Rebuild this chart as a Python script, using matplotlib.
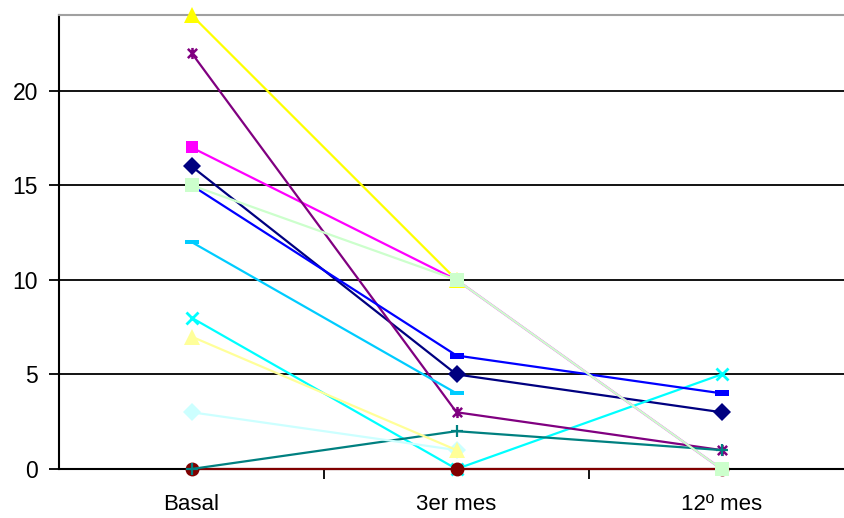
import numpy as np
import matplotlib
matplotlib.use("Agg")
import matplotlib.pyplot as plt
from matplotlib.path import Path

plt.rcParams['font.family'] = ['Liberation Sans', 'DejaVu Sans']

categories = ["Basal", "3er mes", "12º mes"]
nan = np.nan

# one row per patient: Basal, 3er mes, 12º mes
s01 = [16, 5, 3]
s02 = [17, 10, 0]
s03 = [24, 10, nan]
s04 = [8, 0, 5]
s05 = [22, 3, 1]
s06 = [0, 0, 0]
s07 = [0, 2, 1]
s08 = [15, 6, 4]
s09 = [12, 4, nan]
s10 = [3, 1, nan]
s11 = [15, 10, 0]
s12 = [7, 1, nan]

series = [s01, s02, s03, s04, s05, s06, s07, s08, s09, s10, s11, s12]

star = Path([(-1, -1), (1, 1), (-1, 1), (1, -1), (0, -1.2), (0, 1.2)],
            [Path.MOVETO, Path.LINETO, Path.MOVETO, Path.LINETO, Path.MOVETO, Path.LINETO])
short_dash = Path([(-0.6, -0.22), (0.6, -0.22), (0.6, 0.22), (-0.6, 0.22), (-0.6, -0.22)],
                  [Path.MOVETO, Path.LINETO, Path.LINETO, Path.LINETO, Path.CLOSEPOLY])
long_dash = Path([(-1, -0.22), (1, -0.22), (1, 0.22), (-1, 0.22), (-1, -0.22)],
                 [Path.MOVETO, Path.LINETO, Path.LINETO, Path.LINETO, Path.CLOSEPOLY])

styles = [
    dict(color="#000080", marker="D", ms=9, mew=0),
    dict(color="#FF00FF", marker="s", ms=9, mew=0),
    dict(color="#FFFF00", marker="^", ms=11, mew=0),
    dict(color="#00FFFF", marker="x", ms=8, mew=2),
    dict(color="#800080", marker=star, ms=8, mew=1.8),
    dict(color="#800000", marker="o", ms=10, mew=0),
    dict(color="#008080", marker="+", ms=9, mew=1.6),
    dict(color="#0000FF", marker=short_dash, ms=10, mew=0),
    dict(color="#00CCFF", marker=long_dash, ms=10, mew=0),
    dict(color="#CCFFFF", marker="D", ms=9, mew=0),
    dict(color="#CCFFCC", marker="s", ms=10, mew=0),
    dict(color="#FFFF99", marker="^", ms=11, mew=0),
]

W, H = 844, 518
fig = plt.figure(figsize=(W / 100, H / 100), dpi=100)
ax = fig.add_axes([59 / W, (H - 469) / H, 795 / W, 454 / H])

x = np.arange(len(categories)) + 0.5
for i, (vals, st) in enumerate(zip(series, styles)):
    ax.plot(x, vals, color=st["color"], lw=1.6, marker=st["marker"],
            markersize=st["ms"], markeredgewidth=st["mew"],
            markerfacecolor=st["color"], markeredgecolor=st["color"],
            clip_on=False, zorder=3 + i)

ax.set_xlim(0, 3)
ax.set_ylim(0, 24)
ax.set_yticks([0, 5, 10, 15, 20])
ax.yaxis.grid(True, color="black", lw=1.3)
ax.set_axisbelow(True)

ax.set_xticks(x)
ax.set_xticklabels(categories)
ax.set_xticks([1, 2], minor=True)
ax.tick_params(axis="x", which="major", length=0, pad=18, labelsize=16)
ax.tick_params(axis="x", which="minor", length=7, width=1.3, color="black")
ax.tick_params(axis="y", length=7, width=1.3, pad=8, labelsize=16.5, color="black")

for side in ["left", "bottom"]:
    ax.spines[side].set_color("black")
    ax.spines[side].set_linewidth(1.5)
ax.spines["top"].set_color("#A0A0A0")
ax.spines["top"].set_linewidth(1.5)
ax.spines["right"].set_visible(False)

fig.savefig("out.png", dpi=100)
